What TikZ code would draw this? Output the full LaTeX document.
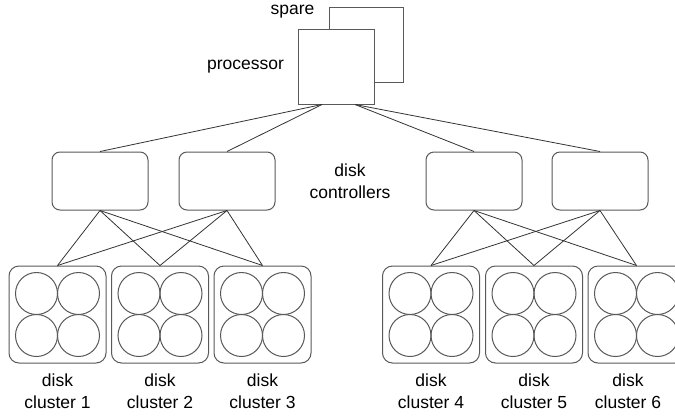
\documentclass[tikz,border=0pt]{standalone}
\usepackage{fontspec}
\setmainfont{Liberation Sans}
\usetikzlibrary{positioning}

\begin{document}
\begin{tikzpicture}[x=1pt,y=-1pt,
  box/.style={draw=black!65,line width=1pt,fill=white},
  ctrl/.style={box,rounded corners=8pt,minimum width=96pt,minimum height=58pt},
  clus/.style={box,rounded corners=10pt,minimum width=97pt,minimum height=97pt},
  disk/.style={draw=black!65,line width=1pt,circle,minimum size=42pt,inner sep=0pt},
  wire/.style={draw=black!80,line width=0.8pt},
  lbl/.style={font=\fontsize{17.5}{22}\selectfont,align=center}]
\useasboundingbox (0,0) rectangle (675,416);
% processor and its spare
\node[box,minimum width=74pt,minimum height=75pt] (spare) at (366,44.5) {};
\node[box,minimum width=76pt,minimum height=75pt] (proc) at (336,66.5) {};
\node[lbl,anchor=east] (sparelbl) at (318,12) {spare};
\node[lbl,left=10pt of proc] (proclbl) {processor};
\coordinate (pl) at ([xshift=-14pt]proc.south);
\coordinate (pr) at ([xshift=19pt]proc.south);
% disk controllers
\node[ctrl] (c1) at (100,181) {};
\node[ctrl] (c2) at (227,181) {};
\node[ctrl] (c3) at (474,181) {};
\node[ctrl] (c4) at (600,181) {};
\node[lbl] (ctrllbl) at (350,181) {disk\\controllers};
% disk clusters
\foreach \i/\x in {1/57.5,2/160,3/262.5,4/431,5/534,6/636.5}{
  \node[clus] (k\i) at (\x,314.5) {};
  \foreach \dx/\dy in {-21/-21,21/-21,-21/21,21/21}
    \node[disk] at (\x+\dx,314.5+\dy) {};
}
\foreach \i/\x in {1/57.5,2/160,3/262.5,4/431,5/534,6/628}
  \node[lbl] (kl\i) at (\x,391) {disk\\cluster \i};
% wires
\draw[wire] (pl) -- (c1.north);
\draw[wire] (pl) -- (c2.north);
\draw[wire] (pr) -- (c3.north);
\draw[wire] (pr) -- (c4.north);
\foreach \c in {c1,c2}
  \foreach \k in {k1,k2,k3}
    \draw[wire] (\c.south) -- (\k.north);
\foreach \c in {c3,c4}
  \foreach \k in {k4,k5,k6}
    \draw[wire] (\c.south) -- (\k.north);
\end{tikzpicture}
\end{document}
